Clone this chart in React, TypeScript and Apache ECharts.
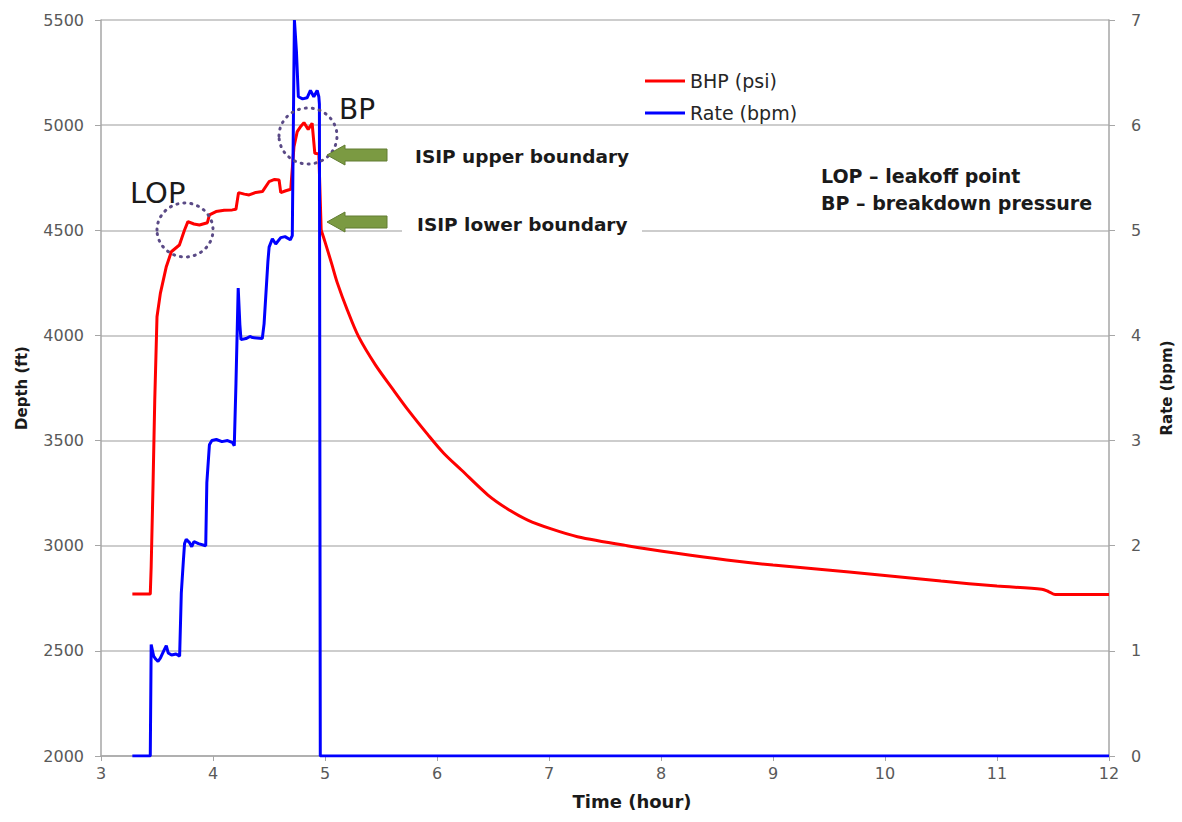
import React, { useEffect, useRef } from "react";
import * as echarts from "echarts";

// Time (hour) / BHP (psi) while pumping
const pumpTime = [
  3.28, 3.44, 3.448, 3.465, 3.48, 3.5, 3.53, 3.583, 3.628, 3.7, 3.745, 3.776, 3.83, 3.879, 3.95, 3.968,
  4.027, 4.1, 4.172, 4.205, 4.228, 4.28, 4.323, 4.382, 4.441, 4.5, 4.55, 4.59, 4.605, 4.65, 4.694,
  4.723, 4.752, 4.785, 4.812, 4.85, 4.885, 4.909, 4.945, 4.966,
];
const pumpBhp = [
  2770, 2770, 2900, 3300, 3693, 4089, 4200, 4327, 4398, 4430, 4500, 4541, 4530, 4525, 4536, 4573,
  4589, 4595, 4597, 4600, 4679, 4672, 4668, 4680, 4684, 4731, 4742, 4739, 4679, 4688, 4695,
  4898, 4969, 4995, 5012, 4980, 5009, 4866, 4863, 4500,
];

// Time (hour) / BHP (psi) after shut-in (pressure decline)
const shutinTime = [
  4.966, 5.0, 5.06, 5.11, 5.2, 5.3, 5.45, 5.61, 5.75, 5.92, 6.06, 6.218, 6.455, 6.63, 6.81, 7.02,
  7.254, 7.698, 8.14, 8.586, 9.0, 9.68, 10.5, 11.0, 11.4, 11.46, 11.52, 12.0,
];
const shutinBhp = [
  4500, 4445, 4340, 4250, 4120, 3994, 3860, 3741, 3640, 3527, 3440, 3360, 3241, 3175, 3122, 3080,
  3043, 3000, 2964, 2932, 2908, 2875, 2832, 2808, 2793, 2782, 2768, 2768,
];

// Time (hour) / Rate (bpm)
const rateTime = [
  3.28, 3.44, 3.448, 3.47, 3.49, 3.509, 3.53, 3.56, 3.583, 3.6, 3.63, 3.67, 3.702, 3.717, 3.735,
  3.746, 3.761, 3.79, 3.81, 3.83, 3.87, 3.935, 3.945, 3.968, 3.99, 4.03, 4.08, 4.13, 4.175, 4.19,
  4.205, 4.225, 4.24, 4.25, 4.294, 4.33, 4.353, 4.44, 4.456, 4.49, 4.501, 4.53, 4.56, 4.605, 4.643,
  4.69, 4.708, 4.722, 4.727, 4.745, 4.762, 4.8, 4.84, 4.87, 4.9, 4.93, 4.945, 4.95, 4.958, 12.0,
];
const rate = [
  0, 0, 1.06, 0.95, 0.92, 0.9, 0.93, 1.0, 1.05, 0.98, 0.96, 0.97, 0.95, 1.55, 1.85,
  2.02, 2.06, 2.03, 1.99, 2.04, 2.02, 2.0, 2.6, 2.96, 3.0, 3.01, 2.99, 3.0, 2.98, 2.95,
  3.54, 4.45, 4.1, 3.96, 3.97, 3.99, 3.98, 3.97, 4.11, 4.7, 4.84, 4.92, 4.87, 4.93, 4.94,
  4.91, 4.95, 6.5, 7.0, 6.7, 6.27, 6.25, 6.26, 6.33, 6.27, 6.33, 6.27, 6.2, 0, 0,
];

const seriesNames = ["BHP (psi)", "Rate (bpm)"];
const depthTicks = { min: 2000, max: 5500, step: 500 };
const rateTicks = { min: 0, max: 7, step: 1 };
const timeTicks = { min: 3, max: 12, step: 1 };

const zip = (a: number[], b: number[]) => a.map((v, i) => [v, b[i]]);

const SANS = "'DejaVu Sans', 'Open Sans', sans-serif";

function arrow(tipX: number, cy: number) {
  return {
    type: "polygon",
    shape: {
      points: [
        [tipX, cy],
        [tipX + 18, cy - 10],
        [tipX + 18, cy - 6],
        [tipX + 60, cy - 6],
        [tipX + 60, cy + 6],
        [tipX + 18, cy + 6],
        [tipX + 18, cy + 10],
      ],
    },
    style: { fill: "#7b9a42", stroke: "#627d33", lineWidth: 1 },
  };
}

export default function App() {
  const ref = useRef<HTMLDivElement>(null);
  useEffect(() => {
    if (!ref.current) return;
    const chart = echarts.init(ref.current, undefined, { renderer: "svg", width: 1182, height: 822 });
    const axisLabelStyle = {
      color: "#595959",
      fontSize: 16,
      fontFamily: SANS,
      formatter: (v: number) => String(v),
    };
    const nameStyle = { fontSize: 15, fontWeight: "bold", color: "#1a1a1a", fontFamily: SANS };
    const redLine = { color: "#ff0000", width: 3 };
    chart.setOption({
      animation: false,
      backgroundColor: "#ffffff",
      grid: { left: 101, right: 68, top: 20, bottom: 66, containLabel: false },
      legend: {
        data: seriesNames,
        orient: "vertical",
        left: 640,
        top: 65,
        icon: "rect",
        itemWidth: 40,
        itemHeight: 3,
        itemGap: 10,
        textStyle: { fontSize: 19, color: "#262626", fontFamily: SANS, lineHeight: 22 },
      },
      xAxis: {
        type: "value",
        min: timeTicks.min,
        max: timeTicks.max,
        interval: timeTicks.step,
        axisLine: { show: true, lineStyle: { color: "#a6a6a6", width: 1.5 } },
        axisTick: { show: true, length: 5, lineStyle: { color: "#a6a6a6" } },
        axisLabel: { ...axisLabelStyle, margin: 9 },
        splitLine: { show: false },
      },
      yAxis: [
        {
          type: "value",
          min: depthTicks.min,
          max: depthTicks.max,
          interval: depthTicks.step,
          name: "Depth (ft)",
          nameLocation: "middle",
          nameGap: 72,
          nameTextStyle: nameStyle,
          axisLine: { show: true, lineStyle: { color: "#a6a6a6", width: 1.5 } },
          axisTick: { show: true, length: 6, lineStyle: { color: "#a6a6a6" } },
          axisLabel: { ...axisLabelStyle, margin: 17 },
          splitLine: { show: true, lineStyle: { color: "#bdbdbd", width: 1.5 } },
        },
        {
          type: "value",
          min: rateTicks.min,
          max: rateTicks.max,
          interval: rateTicks.step,
          name: "Rate (bpm)",
          nameLocation: "middle",
          nameGap: 50,
          nameTextStyle: nameStyle,
          axisLine: { show: true, lineStyle: { color: "#a6a6a6", width: 1.5 } },
          axisTick: { show: true, length: 6, lineStyle: { color: "#a6a6a6" } },
          axisLabel: { ...axisLabelStyle, margin: 22 },
          splitLine: { show: false },
        },
      ],
      series: [
        {
          name: seriesNames[0],
          type: "line",
          yAxisIndex: 0,
          data: zip(pumpTime, pumpBhp),
          showSymbol: false,
          lineStyle: redLine,
          itemStyle: { color: "#ff0000" },
          z: 2,
        },
        {
          name: seriesNames[0],
          type: "line",
          yAxisIndex: 0,
          data: zip(shutinTime, shutinBhp),
          showSymbol: false,
          smooth: 0.3,
          lineStyle: redLine,
          itemStyle: { color: "#ff0000" },
          z: 2,
        },
        {
          name: seriesNames[1],
          type: "line",
          yAxisIndex: 1,
          data: zip(rateTime, rate),
          showSymbol: false,
          lineStyle: { color: "#0000ff", width: 3 },
          itemStyle: { color: "#0000ff" },
          z: 3,
        },
      ],
      graphic: [
        {
          type: "text",
          x: 632,
          y: 801,
          style: {
            text: "Time (hour)",
            fill: "#1a1a1a",
            font: `bold 18px ${SANS}`,
            textAlign: "center",
            textVerticalAlign: "middle",
          },
        },
        {
          type: "ellipse",
          shape: { cx: 185, cy: 230, rx: 28, ry: 27 },
          style: { fill: "none", stroke: "#5a4a86", lineWidth: 3, lineDash: [1, 6], lineCap: "round" },
          z: 10,
        },
        {
          type: "ellipse",
          shape: { cx: 308, cy: 136, rx: 29, ry: 28 },
          style: { fill: "none", stroke: "#5a4a86", lineWidth: 3, lineDash: [1, 6], lineCap: "round" },
          z: 10,
        },
        {
          type: "text",
          x: 130,
          y: 193,
          style: { text: "LOP", fill: "#1a1a1a", font: `29px ${SANS}`, textVerticalAlign: "middle" },
          z: 10,
        },
        {
          type: "text",
          x: 339,
          y: 109,
          style: { text: "BP", fill: "#1a1a1a", font: `28px ${SANS}`, textVerticalAlign: "middle" },
          z: 10,
        },
        { ...arrow(327, 155), z: 10 },
        { ...arrow(327, 222), z: 10 },
        {
          type: "rect",
          shape: { x: 402, y: 222, width: 240, height: 16 },
          style: { fill: "#ffffff" },
          z: 5,
        },
        {
          type: "text",
          x: 415,
          y: 156,
          style: { text: "ISIP upper boundary", fill: "#1a1a1a", font: `bold 18.5px ${SANS}`, textVerticalAlign: "middle" },
          z: 10,
        },
        {
          type: "text",
          x: 417,
          y: 224,
          style: { text: "ISIP lower boundary", fill: "#1a1a1a", font: `bold 18.5px ${SANS}`, textVerticalAlign: "middle" },
          z: 10,
        },
        {
          type: "text",
          x: 821,
          y: 176,
          style: { text: "LOP – leakoff point", fill: "#1a1a1a", font: `bold 19px ${SANS}`, textVerticalAlign: "middle" },
          z: 10,
        },
        {
          type: "text",
          x: 821,
          y: 203,
          style: { text: "BP – breakdown pressure", fill: "#1a1a1a", font: `bold 19px ${SANS}`, textVerticalAlign: "middle" },
          z: 10,
        },
      ],
    });
    return () => chart.dispose();
  }, []);
  return (
    <div
      ref={ref}
      style={{ position: "absolute", left: 0, top: 0, width: 1182, height: 822, background: "#fff" }}
    />
  );
}
